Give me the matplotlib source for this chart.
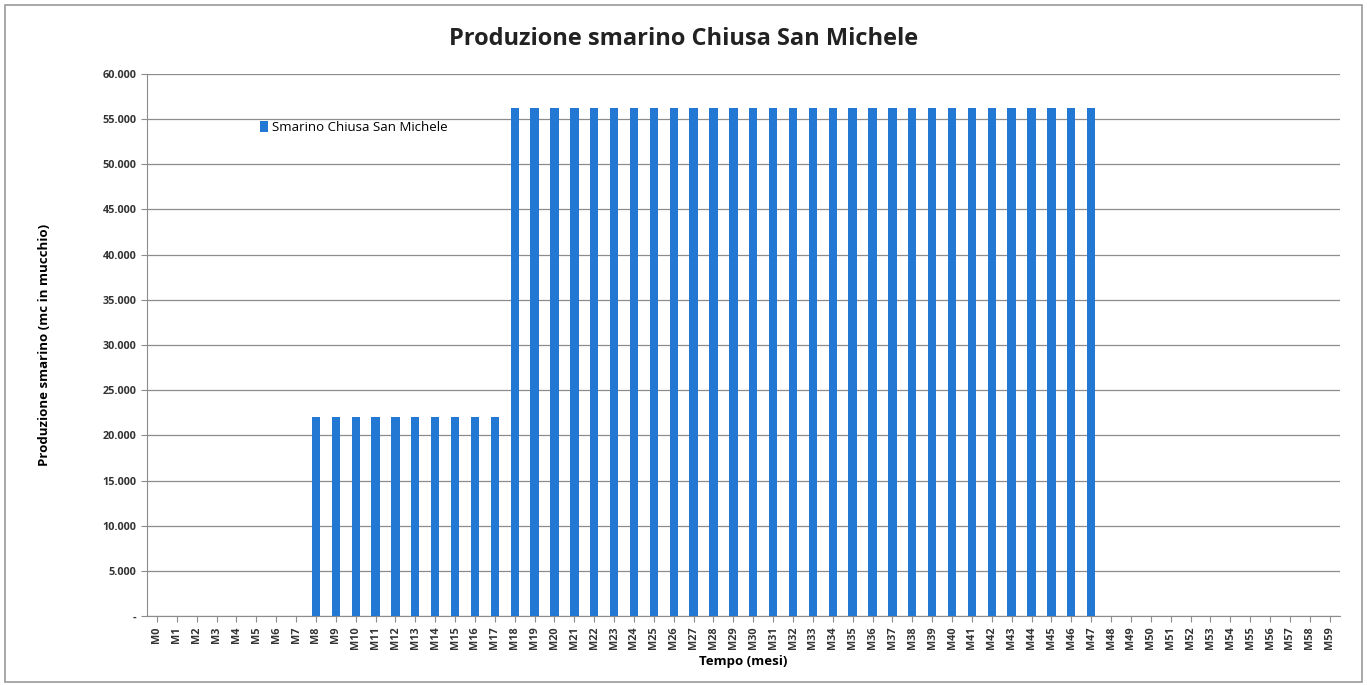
import matplotlib
matplotlib.use('Agg')
import matplotlib.pyplot as plt
from matplotlib.ticker import FuncFormatter
from matplotlib.patches import Rectangle

# dati
mesi = ['M%d' % i for i in range(60)]
produzione = [0] * 8 + [22000] * 10 + [56250] * 30 + [0] * 12
serie = 'Smarino Chiusa San Michele'

plt.rcParams['font.family'] = ['Open Sans', 'DejaVu Sans']

fig = plt.figure(figsize=(13.67, 6.85), dpi=100)
ax = fig.add_axes([0.1075, 0.1007, 0.8725, 0.7913])

x = range(len(mesi))
ax.bar(x, produzione, width=0.42, color='#2378d3', label=serie, zorder=3)

ax.set_xlim(-0.5, len(mesi) - 0.5)
ax.set_ylim(0, 60000)
ax.set_yticks(range(0, 60001, 5000))


def fmt_migliaia(v, pos):
    if v == 0:
        return '-'
    return '{:,.0f}'.format(v).replace(',', '.')


ax.yaxis.set_major_formatter(FuncFormatter(fmt_migliaia))
ax.set_xticks(list(x))
ax.set_xticklabels(mesi, rotation=90, fontsize=7.8, fontweight='bold', color='#333333')
for lab in ax.get_yticklabels():
    lab.set_fontsize(7.8)
    lab.set_fontweight('bold')
    lab.set_color('#333333')

ax.grid(axis='y', color='#8c8c8c', linewidth=0.9, zorder=0)
for s in ['top', 'right']:
    ax.spines[s].set_visible(False)
for s in ['left', 'bottom']:
    ax.spines[s].set_color('#8c8c8c')
ax.tick_params(axis='both', colors='#8c8c8c', labelcolor='#333333', length=4)

ax.set_ylabel('Produzione smarino (mc in mucchio)', fontsize=9.5, fontweight='bold', labelpad=37)
ax.set_xlabel('Tempo (mesi)', fontsize=9.5, fontweight='bold', labelpad=4)

fig.suptitle('Produzione smarino Chiusa San Michele', x=0.5, y=0.96, fontsize=17, fontweight='bold', color='#222222')

ax.legend(loc='upper left', bbox_to_anchor=(0.085, 0.935), frameon=False, fontsize=9.5,
          handlelength=0.6, handleheight=0.9, handletextpad=0.3)

fig.patches.append(Rectangle((0.004, 0.005), 0.992, 0.988, transform=fig.transFigure,
                             fill=False, edgecolor='#9a9a9a', linewidth=1.2))

fig.savefig('out.png', dpi=100)
